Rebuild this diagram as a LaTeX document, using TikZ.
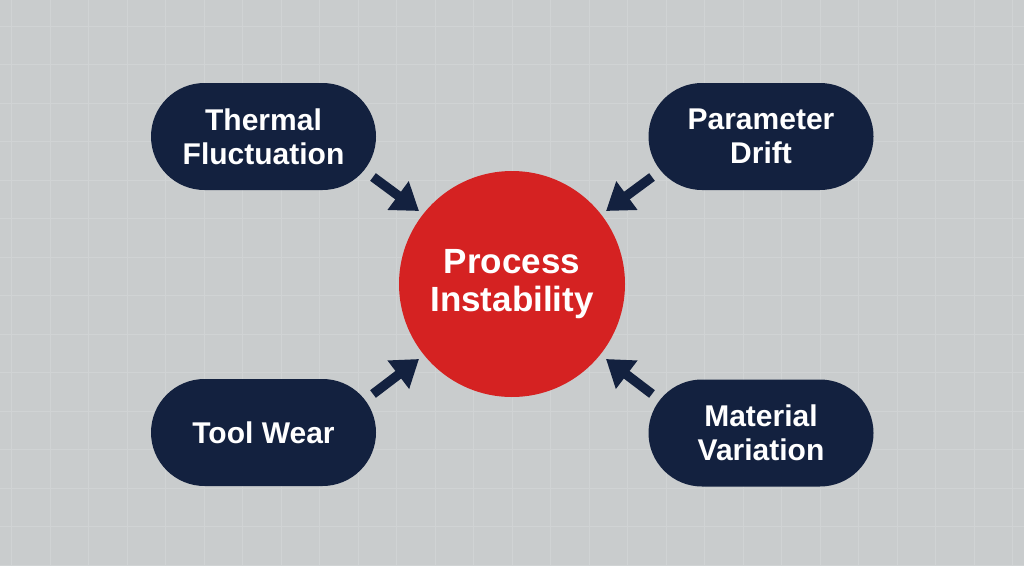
\documentclass[tikz,border=0pt]{standalone}
\usepackage{fontspec}
\setmainfont{Liberation Sans}
\usetikzlibrary{shapes.misc,arrows.meta}
\definecolor{bgc}{HTML}{C9CCCD}
\definecolor{gridc}{HTML}{D0D3D4}
\definecolor{navy}{HTML}{13213F}
\definecolor{redc}{HTML}{D52222}
\begin{document}
\begin{tikzpicture}[x=1pt,y=-1pt,
  pill/.style={rounded rectangle, fill=navy, text=white, minimum width=225pt, minimum height=107pt,
    font=\fontsize{30}{34}\selectfont\bfseries, align=center, inner sep=0pt},
  hub/.style={circle, fill=redc, text=white, minimum size=226pt, inner sep=0pt,
    font=\fontsize{35}{38}\selectfont\bfseries, align=center},
  arr/.style={draw=navy, line width=9.5pt, -{Triangle[length=26pt,width=34pt]}}]
\useasboundingbox (0,0) rectangle (1024,565);
\fill[bgc] (0,0) rectangle (1024,565);
\foreach \i in {0,...,26} {\draw[gridc, line width=1pt] (11.5+\i*38.5,0) -- (11.5+\i*38.5,565);}
\foreach \j in {0,...,14} {\draw[gridc, line width=1pt] (0,26+\j*38.5) -- (1024,26+\j*38.5);}
\node[hub] (pi) at (512,284) {Process\\Instability};
\node[pill] (tf) at (263.5,136.5) {Thermal\\Fluctuation};
\node[pill] (pd) at (761,136.5) {Parameter\\Drift};
\node[pill] (tw) at (263.5,432.5) {Tool Wear};
\node[pill] (mv) at (761,433) {Material\\Variation};
\coordinate (a1s) at (373,177);
\coordinate (a1e) at (419,211);
\coordinate (a2s) at (652,177);
\coordinate (a2e) at (606,211);
\coordinate (a3s) at (373,394);
\coordinate (a3e) at (419,359);
\coordinate (a4s) at (652,394);
\coordinate (a4e) at (606,359);
\draw[arr] (a1s) -- (a1e);
\draw[arr] (a2s) -- (a2e);
\draw[arr] (a3s) -- (a3e);
\draw[arr] (a4s) -- (a4e);
\end{tikzpicture}
\end{document}
